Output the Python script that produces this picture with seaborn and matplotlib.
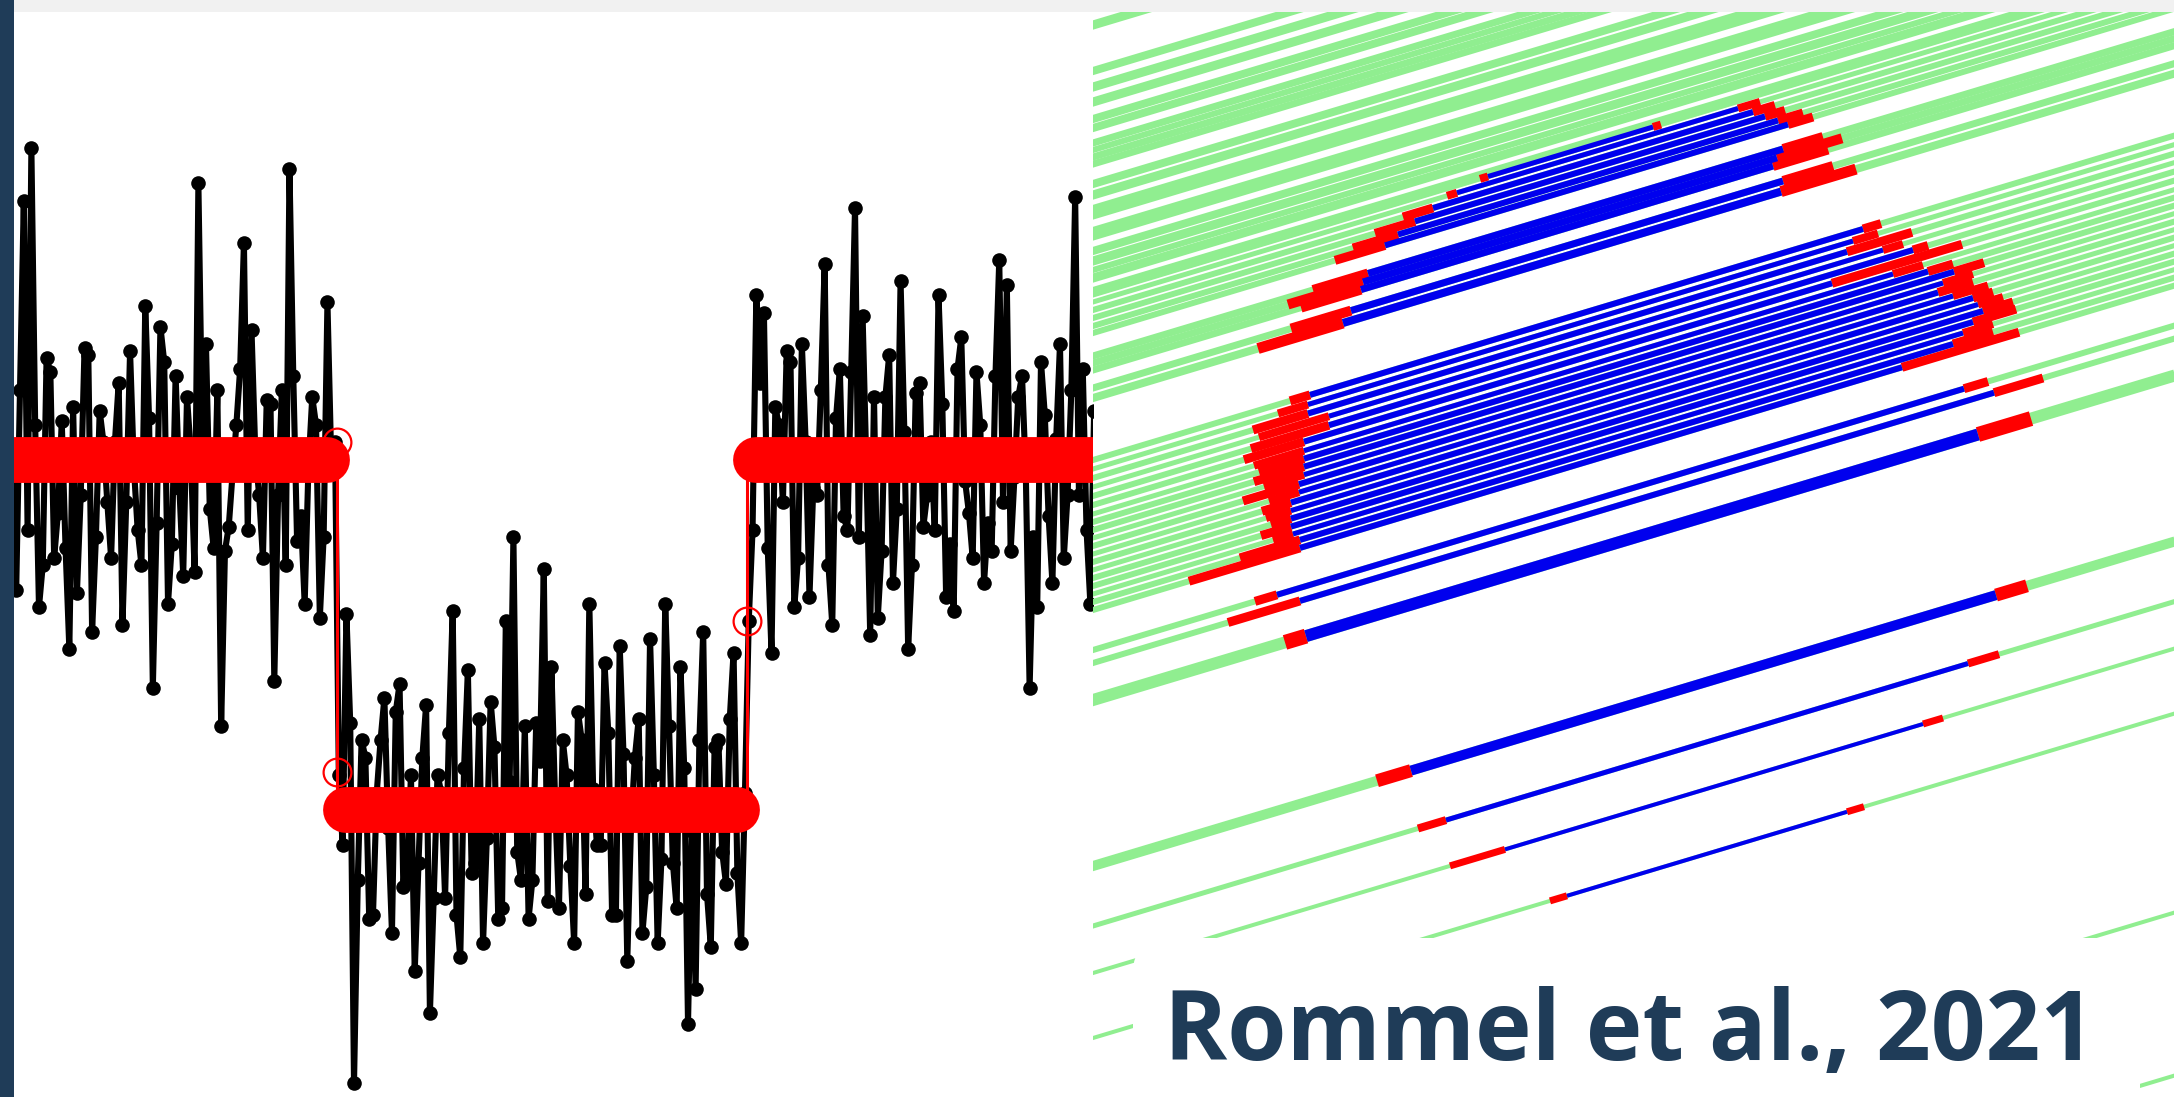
import numpy as np
import pandas as pd
import matplotlib
matplotlib.use("Agg")
import matplotlib.pyplot as plt
from matplotlib.patches import Rectangle, FancyBboxPatch
import seaborn as sns

# ---------------- data: left panel (noisy step signal) ----------------
# outer excursions of each segment
seg1 = [0.63, 1.74, 1.89, 0.58, 1.29, 0.72, 1.11, 0.46, 0.62, 1.32, 0.51, 1.14, 0.88, 1.05, 0.53,
        1.31, 0.80, 1.44, 0.35, 1.38, 0.59, 1.24, 0.67, 1.02, 1.79, 1.33, 0.75, 0.24, 0.81, 1.10,
        1.62, 1.37, 0.90, 1.17, 0.37, 1.20, 1.83, 0.77, 0.59, 1.18, 0.55, 1.45, 1.05]
seg2 = [0.10, 0.56, -0.78, 0.20, -0.31, 0.05, 0.32, -0.35, 0.36, -0.20, -0.46, 0.15, -0.58, 0.10,
        -0.25, 0.57, -0.42, 0.40, -0.15, -0.38, 0.31, -0.31, 0.54, 0.78, -0.20, -0.31, 0.25, 0.69,
        0.41, -0.28, 0.10, -0.38, 0.20, 0.59, -0.10, 0.42, -0.30, 0.47, -0.43, 0.15, -0.35, 0.49,
        -0.38, 0.59, -0.15, 0.41, -0.61, -0.51, 0.51, -0.39, 0.20, -0.21, 0.45, -0.38]
seg3 = [0.54, 1.47, 1.42, 0.45, 1.10, 1.31, 0.58, 1.33, 0.61, 0.90, 1.56, 0.53, 1.26, 0.80, 1.72,
        1.41, 0.50, 0.55, 1.18, 0.65, 1.51, 0.46, 1.19, 0.81, 1.05, 1.47, 0.61, 0.57, 1.35, 0.85,
        1.25, 0.65, 0.74, 1.57, 1.50, 0.95, 1.24, 0.35, 0.58, 1.13, 0.65, 1.33, 0.90, 1.75, 1.26, 0.59]
# samples in the dense core close to each level
seg1_core = [0.95, 1.20, 0.80, 1.10, 0.70, 1.25, 0.85, 0.75, 1.15, 0.90, 1.30, 0.78, 1.05, 0.72,
             1.22, 0.88, 0.98, 0.70, 1.12, 0.82, 1.28, 0.76, 0.92, 1.18, 0.68, 1.08, 0.86, 1.20,
             0.74, 0.96, 1.26, 0.80, 1.02, 0.72, 1.16, 0.90, 0.70, 1.24, 0.84, 0.98, 1.10, 0.78, 1.00]
seg2_core = [-0.10, 0.25, -0.20, 0.15, -0.30, 0.20, -0.05, 0.28, -0.22, 0.10, -0.15, 0.30, -0.25,
             0.05, 0.22, -0.30, 0.12, -0.18, 0.26, -0.08, 0.18, -0.28, 0.08, -0.12, 0.24, -0.20,
             0.14, -0.26, 0.02, 0.20, -0.16, 0.28, -0.24, 0.06, -0.10, 0.22, -0.30, 0.16, -0.04,
             0.26, -0.22, 0.10, -0.14, 0.24, -0.28, 0.12, -0.06, 0.20, -0.24, 0.18, -0.12, 0.26,
             -0.18, 0.05]
seg3_core = [0.80, 1.22, 0.75, 1.15, 0.88, 1.28, 0.72, 1.05, 0.92, 1.20, 0.70, 1.12, 0.84, 1.25,
             0.78, 0.98, 1.18, 0.74, 1.30, 0.86, 1.08, 0.70, 1.22, 0.90, 0.80, 1.16, 0.76, 1.26,
             0.94, 0.72, 1.10, 0.82, 1.24, 0.88, 0.74, 1.18, 0.96, 0.78, 1.28, 0.84, 1.06, 0.72,
             1.20, 0.90, 0.80, 1.14]
levels = [1.0, 0.0, 1.0]
change_points = [85.5, 193.5]
marked_x = [85.5, 85.5, 193.5]
marked_y = [1.05, 0.11, 0.54]

# ---------------- data: right panel (fibres) ----------------
slope = 0.3
green_offset = [25, 71, 87, 102, 119, 128, 143, 150, 157, 164, 184, 195, 209, 216, 231, 237, 251,
                261, 270, 278, 290, 1237, 1400]
green_width = [9, 8, 9, 9, 8, 8, 7, 6, 7, 7, 8, 9, 8, 7, 8, 7, 8, 9, 6, 9, 6, 4, 4]

fiber_offset = [295, 302, 310, 318, 326, 333, 356, 363, 370, 388, 398,
                460, 469, 478, 487, 496, 505, 514, 522, 530, 538, 546, 554, 562, 570, 578, 586,
                594, 602, 610, 650, 663, 700,
                866, 926, 973, 1038]
fiber_start = [395, 364, 340, 322, 305, 292, 275, 270, 268, 258, 250,
               217, 215, 215, 236, 236, 211, 211, 211, 211, 211, 206, 206, 198, 198, 198, 198,
               200, 207, 207, 184, 207, 213,
               318, 353, 412, 474]
fiber_end = [560, 645, 660, 672, 685, 695, 690, 684, 680, 690, 688,
             770, 760, 754, 790, 820, 739, 800, 835, 861, 850, 845, 860, 880, 885, 890, 880,
             870, 860, 809, 871, 901, 885,
             903, 875, 830, 754]
tail_left = [8, 10, 30, 40, 45, 50, 55, 75, 60, 60, 85,
             20, 30, 55, 70, 78, 60, 50, 45, 50, 40, 56, 30, 29, 25, 20, 30,
             20, 60, 111, 22, 72, 21,
             34, 28, 55, 17]
tail_right = [8, 22, 22, 20, 25, 25, 40, 65, 55, 50, 75,
              18, 25, 65, 20, 15, 130, 30, 25, 30, 30, 35, 35, 20, 25, 30, 43,
              30, 40, 117, 24, 49, 53,
              31, 31, 20, 17]
fiber_width = [5, 5, 6, 6, 6, 6, 7, 7, 7, 7, 8,
               6, 5, 6, 5, 6, 6, 5, 6, 6, 5, 6, 5, 6, 5, 6, 6,
               5, 6, 6, 6, 6, 12,
               10, 5, 4, 4]

citation = "Rommel et al., 2021"

# ---------------- styling ----------------
sns.set_theme(style="white")
plt.rcParams["font.family"] = ["Open Sans", "DejaVu Sans"]

W, H = 2174, 1097
PX2PT = 0.72
fig = plt.figure(figsize=(W / 100, H / 100), dpi=100)
fig.patch.set_facecolor("white")


def interleave(first, second):
    out = []
    for a, b in zip(first, second):
        out += [a, b]
    return out


# ---------------- left panel ----------------
axl = fig.add_axes([14 / W, 0, 1079 / W, 1085 / H])
axl.set_xlim(0.42, 284.7)
axl.set_ylim(-0.82, 2.28)
axl.axis("off")

s1 = interleave(seg1_core, seg1)
s2 = interleave(seg2, seg2_core)
s3 = interleave(seg3, seg3_core)
values = s1 + s2 + s3
sig = pd.DataFrame({"t": np.arange(len(values)), "y": values})
sns.lineplot(data=sig, x="t", y="y", estimator=None, sort=False, color="black",
             linewidth=4.4, marker="o", markersize=10.5, markeredgewidth=0, ax=axl, zorder=2)

bounds = [0, len(s1), len(s1) + len(s2), len(values)]
# thin red step path
step_x = [bounds[0] - 4]
step_y = [levels[0]]
for k, cp in enumerate(change_points):
    step_x += [cp, cp]
    step_y += [levels[k], levels[k + 1]]
step_x.append(bounds[-1] + 4)
step_y.append(levels[-1])
sns.lineplot(x=step_x, y=step_y, estimator=None, sort=False, color="#ff0000",
             linewidth=2.2, ax=axl, zorder=3)
# thick bands for each fitted segment
for k in range(3):
    a = bounds[k] + 2 if k > 0 else bounds[k] - 6
    b = bounds[k + 1] - 3 if k < 2 else bounds[k + 1] + 6
    sns.lineplot(x=[a, b], y=[levels[k], levels[k]], estimator=None, sort=False,
                 color="#ff0000", linewidth=33, solid_capstyle="round", ax=axl, zorder=3)
# open circles at change-point samples
sns.lineplot(x=marked_x, y=marked_y, estimator=None, sort=False, linewidth=0, marker="o",
             markersize=20, markerfacecolor="none", markeredgecolor="#ff0000",
             markeredgewidth=1.6, ax=axl, zorder=4)

# ---------------- right panel ----------------
axr = fig.add_axes([1093 / W, 0, 1081 / W, 1085 / H])
axr.set_xlim(0, 1081)
axr.set_ylim(1097, 12)
axr.axis("off")

U_LO, U_HI = -30, 1110


def segments(offsets, starts, ends, widths):
    rows = []
    for i, (v0, a, b, w) in enumerate(zip(offsets, starts, ends, widths)):
        for u in (a, b):
            rows.append({"line": i, "u": u, "v": v0 - slope * u, "w": w})
    return pd.DataFrame(rows)


def draw(df, color, z, cap="butt"):
    for w, grp in df.groupby("w"):
        sns.lineplot(data=grp, x="u", y="v", units="line", estimator=None, sort=False,
                     color=color, linewidth=w * PX2PT, solid_capstyle=cap, ax=axr,
                     legend=False, zorder=z)


all_off = green_offset + fiber_offset
all_w = green_width + fiber_width
green_df = segments(all_off, [U_LO] * len(all_off), [U_HI] * len(all_off), all_w)
draw(green_df, "#90ee90", 1)

red_off = fiber_offset + fiber_offset
red_a = [s - t for s, t in zip(fiber_start, tail_left)] + fiber_end
red_b = fiber_start + [e + t for e, t in zip(fiber_end, tail_right)]
red_w = [w + 3 for w in fiber_width] * 2
red_df = segments(red_off, red_a, red_b, red_w)
draw(red_df, "#ff0000", 2)

blue_df = segments(fiber_offset, fiber_start, fiber_end, fiber_width)
draw(blue_df, "#0000ee", 3)

# ---------------- decorations ----------------
fig.add_artist(Rectangle((0, 1 - 12 / H), 1, 12 / H, transform=fig.transFigure,
                         facecolor="#f1f1f1", edgecolor="none", zorder=10))
fig.add_artist(Rectangle((0, 0), 14 / W, 1, transform=fig.transFigure,
                         facecolor="#1f3c58", edgecolor="none", zorder=11))
box = FancyBboxPatch((11.33, -0.6), 10.07, 2.19, boxstyle="round,pad=0,rounding_size=0.35",
                     transform=fig.dpi_scale_trans, facecolor="white", edgecolor="none",
                     zorder=12)
fig.add_artist(box)
fig.text(1630 / W, (H - 1060) / H, citation, ha="center", va="baseline", fontsize=69,
         fontweight="bold", color="#1f3c58", family=["Open Sans", "DejaVu Sans"], zorder=13)

fig.savefig("out.png", dpi=100)
